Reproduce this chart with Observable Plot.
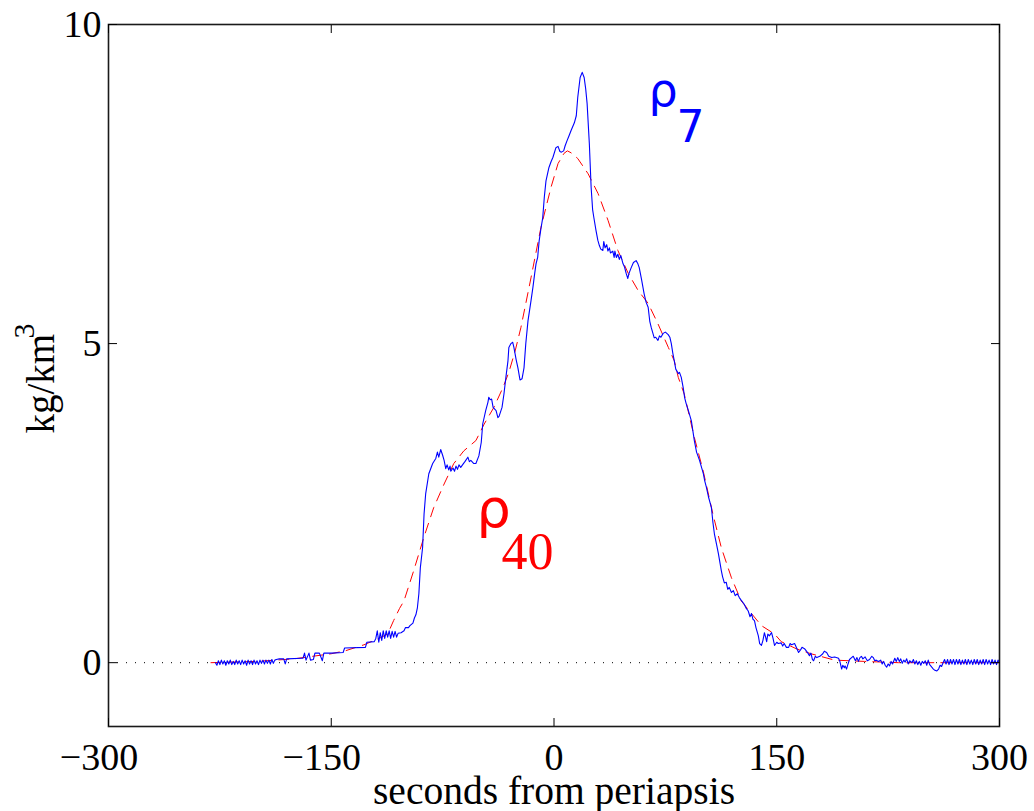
<!DOCTYPE html>
<html><head><meta charset="utf-8">
<script src="https://cdn.jsdelivr.net/npm/d3@7"></script>
<script src="https://cdn.jsdelivr.net/npm/@observablehq/plot@0.6"></script>
<style>body{margin:0;background:#fff}</style>
</head><body><div id="chart"></div>
<script>
const xTicks = [-300, -150, 0, 150, 300];
const yTicks = [0, 5, 10];
const xLabel = "seconds from periapsis";
const yLabel = "kg/km";
const yLabelSup = "3";

// rho_7 : [seconds, kg/km^3]
const rho7 = [
[-228,0.0],[-227,-0.04],[-226,0.03],[-225,-0.03],[-224,0.04],[-223,-0.02],[-222,0.03],[-221,-0.04],[-220,0.03],[-219,-0.02],
[-218,0.04],[-217,-0.03],[-216,0.02],[-215,-0.03],[-214,0.04],[-213,-0.02],[-212,0.03],[-211,-0.03],[-210,0.04],[-209,-0.02],
[-208,0.03],[-207,-0.04],[-206,0.04],[-205,-0.02],[-204,0.03],[-203,-0.03],[-202,0.04],[-201,-0.02],[-200,0.03],[-199,-0.03],
[-198,0.04],[-197,-0.01],[-196,0.04],[-195,-0.02],[-194,0.04],[-193,-0.01],[-192,0.04],[-191,-0.02],[-190,0.05],[-189,-0.01],
[-188,0.04],[-187,0.05],[-185,0.06],[-182,0.06],[-181,-0.02],[-180,0.06],[-170,0.07],
[-169,0.07],[-168,0.15],[-167,0.04],[-165,0.15],[-164,0.04],[-162,0.05],[-161,0.15],[-159,0.15],[-158,0.15],[-156,0.03],[-155,0.15],
[-150,0.15],[-142,0.16],[-141,0.23],[-127,0.24],[-126,0.32],[-121,0.33],[-120,0.38],[-119,0.5],[-118,0.32],[-117,0.47],[-116,0.35],
[-115,0.5],[-114,0.38],[-113,0.5],[-112,0.4],[-111,0.5],[-110,0.38],[-109,0.49],[-108,0.4],[-107,0.49],[-106,0.4],[-105,0.46],
[-103,0.47],[-101,0.5],[-100,0.55],[-98,0.55],[-97,0.58],[-95,0.62],[-94,0.7],[-93,0.75],[-92,0.86],[-91,1.08],[-90,1.49],
[-88.5,1.8],[-87.5,2.33],[-86.4,2.65],[-84.3,2.96],[-81.7,3.12],[-79.6,3.2],[-78.5,3.3],[-77.6,3.22],[-76.3,3.34],[-75,3.25],
[-74,3.17],[-72.9,3.04],[-72,3.1],[-70.9,3.02],[-70,3.08],[-69.5,3.0],[-68,3.05],[-67,3.0],[-66,3.08],[-65,3.03],[-64,3.1],
[-62.8,3.06],[-61,3.12],[-60,3.15],[-58,3.22],[-57,3.15],[-56,3.17],[-54,3.12],[-52.6,3.12],[-50.6,3.24],[-49,3.45],[-48,3.74],
[-46,3.95],[-44.5,4.08],[-43.9,4.16],[-43,4.12],[-42,4.13],[-41,4.0],[-39,3.95],[-37.8,3.84],[-37,3.86],[-35,4.0],[-33.7,4.21],
[-32.4,4.47],[-31,4.73],[-30.4,4.94],[-29,5.0],[-27.8,5.02],[-27,4.94],[-25.5,4.75],[-24.3,4.62],[-22.9,4.43],[-21.5,4.45],
[-20.2,4.62],[-19,5.0],[-17.5,5.36],[-15.5,5.67],[-14.2,5.88],[-13,6.1],[-12.1,6.25],[-11,6.35],[-10,6.61],[-8.8,6.8],[-7.6,6.97],
[-6.5,7.3],[-5.4,7.55],[-3.4,7.76],[-2,7.85],[-0.7,7.92],[1.3,8.07],[2.7,8.09],[4,8.01],[5,8.0],[6.5,8.02],[7.5,8.1],[8.8,8.18],
[10,8.25],[11.5,8.34],[13.7,8.46],[15,8.57],[16,8.86],[17.6,9.17],[19,9.25],[20.3,9.17],[21.3,9.0],[22.3,8.76],[23.8,8.13],
[25,7.45],[26,7.1],[26.8,6.98],[28.3,6.77],[29.5,6.62],[30.5,6.54],[31.5,6.48],[32.9,6.46],[33.5,6.6],[34.4,6.5],[35.5,6.55],
[36.3,6.45],[37.3,6.5],[38,6.42],[39.6,6.45],[40.5,6.35],[41,6.45],[42,6.35],[43,6.4],[44,6.32],[45,6.38],[46.5,6.25],[47.5,6.2],
[48.6,6.1],[49.7,6.02],[50.5,6.1],[52,6.19],[53.5,6.27],[55.3,6.3],[56.5,6.25],[57.4,6.19],[59,6.0],[60.7,5.78],[62,5.65],
[63.4,5.57],[64.5,5.35],[65.5,5.25],[67.5,5.09],[68.5,5.1],[70,5.05],[71,5.12],[72,5.1],[73.5,5.16],[75,5.18],[76.9,5.14],[78,5.1],
[79,5.0],[80,4.85],[81,4.73],[82,4.6],[83.7,4.53],[84.5,4.55],[85.7,4.47],[87,4.31],[88,4.15],[89,4.06],[90.5,3.95],[92.5,3.79],
[94.5,3.48],[96,3.3],[98,3.17],[99.5,3.05],[100.6,2.96],[101.5,2.85],[102.6,2.75],[104,2.6],[106,2.43],[107,2.2],[108,2.02],
[109.5,1.85],[110.7,1.71],[112.7,1.44],[113.5,1.35],[114.7,1.25],[116,1.26],[117,1.15],[118,1.18],[119.5,1.1],[120.8,1.13],
[122,1.05],[123.5,1.08],[124.8,1.02],[126,0.98],[128,0.92],[129.5,0.85],[130.8,0.81],[132,0.72],[133,0.77],[134,0.68],[135,0.66],
[136,0.55],[137.6,0.42],[138.5,0.3],[139.7,0.27],[140.7,0.35],[141.7,0.47],[142.5,0.4],[143.2,0.33],[144,0.45],[145,0.42],
[146.5,0.47],[147.5,0.38],[148.5,0.27],[150,0.32],[151,0.3],[153,0.31],[154,0.26],[155,0.3],[156.5,0.24],[158,0.24],[159,0.3],
[160,0.28],[162,0.3],[163,0.25],[164.7,0.16],[166,0.2],[167,0.24],[168.7,0.22],[170,0.18],[171,0.15],[172,0.11],[173,0.15],
[174,0.05],[174.8,0.03],[176,0.1],[177,0.08],[179,0.1],[181,0.14],[182,0.18],[183.6,0.16],[185,0.1],[187,0.08],[189,0.09],
[191.6,0.07],[192.5,0.02],[193.7,-0.1],[194.5,-0.04],[195.5,-0.08],[196,-0.05],[197,-0.1],[198,-0.02],[199,0.05],[200.4,0.08],
[201.5,0.1],[203,0.03],[204,0.08],[205,0.02],[206,0.08],[207,0.1],[208,0.06],[209.5,0.09],[211,0.03],[212.5,0.05],[214,0.1],
[215,0.08],[216,0.03],[217,0.04],[218.5,0.02],[220,0.04],[221,-0.02],[222,0.02],[223,-0.04],[224,-0.07],[225,-0.02],[226,-0.05],
[227,0.02],[228,-0.02],[229.5,0.07],[230.5,0.02],[231.5,0.08],[232.5,0.02],[233.5,0.06],[234.5,-0.01],[235.5,0.04],[236.5,0.01],
[237.5,0.06],[238.5,-0.02],[239.5,0.03],[241,0.0],[242,0.05],[243,-0.02],[244,0.03],[245,-0.03],[246,0.02],[247,-0.04],[248,0.02],
[249,-0.01],[250,0.03],[251,-0.04],[252,0.04],[253,-0.03],[254.4,-0.07],[255.5,-0.1],[256.5,-0.12],[257.8,-0.13],[259,-0.1],
[260,-0.04],[261,-0.06],[262,0.0],[263,0.05],[264,-0.02],[265,0.05],[266,-0.03],[267,0.05],[268,-0.02],[269,0.05],[270,-0.03],
[271,0.05],[272,-0.02],[273,0.05],[274,-0.03],[275,0.04],[276,-0.02],[277,0.05],[278,-0.03],[279,0.05],[280,-0.02],[281,0.04],
[282,-0.03],[283,0.05],[284,-0.02],[285,0.05],[286,-0.03],[287,0.04],[288,-0.02],[289,0.05],[290,-0.03],[291,0.05],[292,-0.02],
[293,0.04],[294,-0.03],[295,0.05],[296,-0.02],[297,0.04],[298,-0.03],[299,0.04],[300,0.0]
];

// rho_40 : [seconds, kg/km^3]
const rho40 = [
[-231,0],[-200,0.02],[-175,0.06],[-150,0.14],[-140,0.19],[-128,0.28],[-117,0.39],[-112,0.45],[-108,0.66],[-104,0.85],[-101,0.97],
[-94.5,1.44],[-87.7,1.96],[-81,2.43],[-74,2.8],[-67.5,3.12],[-60.7,3.32],[-52.6,3.48],[-47,3.74],[-40.5,4.0],[-34.4,4.31],
[-30.4,4.55],[-26,4.9],[-22.3,5.25],[-15.5,6.03],[-8.8,6.82],[-2,7.45],[2.7,7.82],[6.7,7.98],[9,8.02],[11.5,7.99],[16,7.9],
[23,7.66],[29.7,7.35],[36.4,6.93],[43,6.46],[50,6.1],[56.7,5.83],[63.4,5.63],[70,5.31],[77,4.94],[81,4.73],[83.7,4.47],
[87.7,4.21],[94.5,3.53],[100.5,3.0],[107,2.33],[112.7,1.8],[119.5,1.33],[126,0.97],[133,0.77],[139.7,0.58],[148.5,0.45],
[153,0.33],[163,0.22],[173,0.14],[189,0.04],[209,0.02],[232,0.0],[300,0.0]
];

// annotation anchors in data units
const label7 = [{x: 63.6, y: 8.73, text: "ρ"}];
const label7Sub = [{x: 82.5, y: 8.16, text: "7"}];
const label40 = [{x: -52.2, y: 2.12, text: "ρ"}];
const label40Sub = [{x: -35.4, y: 1.47, text: "40"}];

// negative labels: the digits stay centred on the tick, the minus hangs left
const fmtX = d => d < 0 ? "\u2212" + Math.abs(d) + "\u00A0\u00A0" : String(d);
const fmtY = d => String(d);
const serif = "'Liberation Serif', 'Times New Roman', serif";
const sans = "'DejaVu Sans', sans-serif";

const chart = Plot.plot({
  width: 1034, height: 811,
  marginLeft: 108, marginRight: 35, marginTop: 24, marginBottom: 85,
  x: {domain: [-300, 300]},
  y: {domain: [-1, 10]},
  style: {fontFamily: serif, fontSize: "37px", color: "black", background: "white"},
  marks: [
    Plot.ruleY([0], {stroke: "black", strokeDasharray: "1,8", strokeWidth: 1}),
    Plot.line(rho40, {x: d => d[0], y: d => d[1], stroke: "red", strokeWidth: 1, strokeDasharray: "10,7"}),
    Plot.line(rho7, {x: d => d[0], y: d => d[1], stroke: "blue", strokeWidth: 1.1}),
    Plot.frame({stroke: "#1a1a1a", strokeWidth: 1.6}),
    Plot.axisX(xTicks, {anchor: "bottom", tickSize: -8, tickPadding: 25, tickFormat: fmtX, label: null, fontSize: 38}),
    Plot.axisX(xTicks, {anchor: "top", tickSize: -8, tickFormat: () => "", label: null}),
    Plot.axisY(yTicks, {anchor: "left", tickSize: -9, tickPadding: 16, tickFormat: fmtY, label: null, fontSize: 38}),
    Plot.axisY(yTicks, {anchor: "right", tickSize: -9, tickFormat: () => "", label: null}),
    Plot.text([xLabel], {text: d => d, frameAnchor: "bottom", dy: 77, lineAnchor: "bottom", fontSize: 39.5}),
    Plot.text([yLabel], {text: d => d, frameAnchor: "left", rotate: -90, textAnchor: "start", lineAnchor: "bottom", dx: -55, dy: 58, fontSize: 39}),
    Plot.text([yLabelSup], {text: d => d, frameAnchor: "left", rotate: -90, textAnchor: "start", lineAnchor: "bottom", dx: -75, dy: -37, fontSize: 30}),
    Plot.text(label7, {x: "x", y: "y", text: "text", fill: "blue", textAnchor: "start", lineAnchor: "bottom", fontFamily: sans, fontSize: 46}),
    Plot.text(label7Sub, {x: "x", y: "y", text: "text", fill: "blue", textAnchor: "start", lineAnchor: "bottom", fontFamily: sans, fontSize: 44}),
    Plot.text(label40, {x: "x", y: "y", text: "text", fill: "red", textAnchor: "start", lineAnchor: "bottom", fontFamily: sans, fontSize: 54}),
    Plot.text(label40Sub, {x: "x", y: "y", text: "text", fill: "red", textAnchor: "start", lineAnchor: "bottom", fontFamily: serif, fontSize: 52})
  ]
});
document.getElementById("chart").appendChild(chart);
</script>
</body></html>
